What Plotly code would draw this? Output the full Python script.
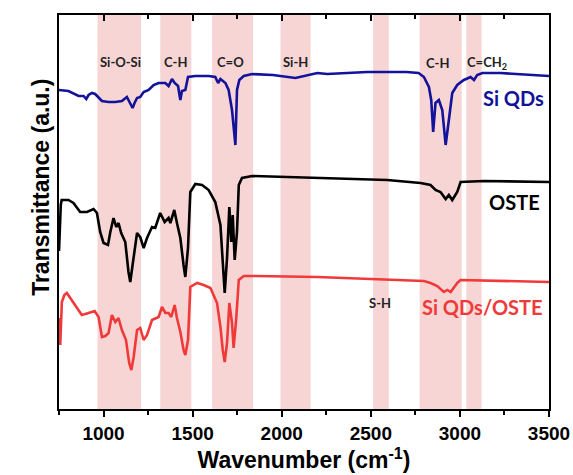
import plotly.graph_objects as go

# FTIR spectra, stacked with vertical offsets (arbitrary transmittance units)
wn_siqd = [750, 803, 860, 888, 903, 916, 935, 953, 991, 1028, 1066, 1103, 1131, 1144, 1163, 1174,
           1188, 1206, 1225, 1253, 1281, 1309, 1347, 1365, 1384, 1399, 1418, 1431, 1440, 1459, 1474,
           1515, 1590, 1627, 1643, 1656, 1684, 1702, 1721, 1740, 1749, 1762, 1787, 1834, 1950, 2077,
           2200, 2255, 2480, 2700, 2768, 2798, 2826, 2839, 2850, 2863, 2882, 2901, 2920, 2938, 2957,
           2985, 3022, 3060, 3079, 3097, 3126, 3228, 3500]
t_siqd = [319, 318, 313, 313, 310, 314, 316, 315, 308, 307, 307, 308, 312, 307, 301, 306,
          311, 312, 317, 319, 324, 326, 326, 323, 330, 326, 323, 309, 318, 319, 332,
          333, 333, 332, 326, 330, 326, 319, 299, 264, 319, 329, 333, 335, 334, 331,
          336, 335, 337, 337, 336, 332, 322, 309, 277, 306, 309, 299, 264, 289, 316,
          324, 329, 332, 329, 334, 336, 336, 333]

wn_oste = [750, 755, 760, 765, 775, 803, 831, 869, 907, 944, 963, 981, 1000, 1025, 1038, 1056,
           1071, 1084, 1099, 1122, 1140, 1150, 1163, 1188, 1206, 1225, 1244, 1272, 1290, 1318,
           1343, 1365, 1375, 1397, 1412, 1431, 1449, 1459, 1474, 1487, 1515, 1553, 1590, 1627,
           1656, 1669, 1680, 1693, 1706, 1717, 1725, 1736, 1749, 1759, 1777, 1834, 2273, 2592,
           2779, 2835, 2863, 2891, 2920, 2938, 2957, 2985, 3004, 3135, 3500]
t_oste = [158, 192, 204, 209, 209, 209, 206, 197, 197, 200, 196, 177, 166, 164, 177, 191,
          182, 186, 176, 167, 137, 127, 144, 176, 172, 161, 171, 182, 181, 196,
          187, 191, 186, 199, 186, 171, 144, 132, 161, 217, 225, 224, 219, 207,
          184, 144, 116, 151, 202, 167, 194, 149, 177, 224, 231, 233, 231, 229,
          226, 224, 219, 217, 210, 214, 209, 217, 227, 228, 227]

wn_comp = [750, 757, 766, 780, 794, 822, 860, 878, 916, 950, 972, 991, 1010, 1028, 1047, 1066,
           1084, 1103, 1126, 1144, 1156, 1169, 1188, 1206, 1225, 1244, 1272, 1309, 1328, 1347,
           1365, 1380, 1399, 1412, 1431, 1449, 1459, 1474, 1487, 1525, 1562, 1600, 1637, 1656,
           1669, 1680, 1693, 1706, 1721, 1730, 1744, 1759, 1787, 1852, 2200, 2500, 2798, 2835,
           2873, 2910, 2929, 2948, 2985, 3004, 3500]
t_comp = [91, 64, 107, 114, 116, 109, 99, 94, 96, 98, 92, 72, 73, 76, 94, 87,
          91, 79, 69, 46, 39, 52, 79, 81, 69, 74, 89, 92, 102, 96,
          96, 92, 104, 91, 77, 59, 54, 69, 122, 126, 124, 121, 106, 82,
          59, 47, 66, 106, 86, 61, 89, 129, 133, 133, 132, 130, 128, 126,
          123, 117, 119, 117, 126, 129, 127]

# Highlighted absorption bands (cm^-1)
band_lo = [966, 1318, 1609, 1993, 2513, 2774, 3036]
band_hi = [1210, 1493, 1839, 2162, 2601, 3010, 3122]

# Band assignments: label, position, height
group_names = ["Si-O-Si", "C-H", "C=O", "Si-H", "C-H", "C=CH<sub>2</sub>", "S-H"]
group_x = [1094, 1403, 1713, 2077, 2873, 3153, 2553]
group_y = [347, 347, 347, 347, 346, 346, 106]

series_names = ["Si QDs", "OSTE", "Si QDs/OSTE"]
series_colors = ["#12129b", "#000000", "#f03a3a"]
label_x = [3481, 3463, 3476]
label_y = [311, 207, 102]

tick_vals = [1000, 1500, 2000, 2500, 3000, 3500]

fig = go.Figure()

for wn, t, name, col in zip([wn_siqd, wn_oste, wn_comp], [t_siqd, t_oste, t_comp],
                            series_names, series_colors):
    fig.add_trace(go.Scatter(x=wn, y=t, mode="lines", name=name,
                             line=dict(color=col, width=2.6), showlegend=False))

# invisible trace that carries the top tick axis
fig.add_trace(go.Scatter(x=[750, 3500], y=[-50, -50], xaxis="x2", mode="lines",
                         line=dict(width=0), showlegend=False, hoverinfo="skip"))

for lo, hi in zip(band_lo, band_hi):
    fig.add_shape(type="rect", xref="x", yref="paper", x0=lo, x1=hi, y0=0, y1=1,
                  fillcolor="#f7d5d5", line=dict(width=0), layer="below")

for name, x, y in zip(group_names, group_x, group_y):
    fig.add_annotation(x=x, y=y, xref="x", yref="y", text=name, showarrow=False,
                       font=dict(family="Lato", size=13, color="#222222", weight="bold"))

for name, col, x, y in zip(series_names, series_colors, label_x, label_y):
    fig.add_annotation(x=x, y=y, xref="x", yref="y", text=name, showarrow=False,
                       xanchor="right",
                       font=dict(family="Lato", size=20, color=col, weight="bold"))

fig.add_annotation(text="Transmittance (a.u.)", xref="paper", yref="paper",
                   x=-0.068, y=0.563, textangle=-90, showarrow=False,
                   font=dict(family="Liberation Sans", size=23, color="black", weight="bold"))

fig.update_layout(
    width=573, height=475,
    margin=dict(l=59, r=24, t=15, b=66, autoexpand=False),
    plot_bgcolor="white", paper_bgcolor="white",
    xaxis=dict(range=[750, 3500], tickvals=tick_vals, automargin=False,
               ticks="outside", ticklen=6, tickwidth=2, tickcolor="black",
               minor=dict(dtick=250, tick0=1000, ticks="outside", ticklen=4, tickwidth=2,
                          tickcolor="black"),
               showline=True, linecolor="black", linewidth=2, mirror=True,
               showgrid=False, zeroline=False,
               tickfont=dict(family="Liberation Sans", size=19, color="black", weight="bold"),
               title=dict(text="Wavenumber (cm<sup>-1</sup>)", standoff=4,
                          font=dict(family="Liberation Sans", size=23, color="black",
                                    weight="bold"))),
    xaxis2=dict(range=[750, 3500], overlaying="x", side="top", automargin=False,
                tickvals=tick_vals, showticklabels=False,
                ticks="inside", ticklen=6, tickwidth=2, tickcolor="black",
                minor=dict(dtick=250, tick0=1000, ticks="inside", ticklen=4, tickwidth=2,
                           tickcolor="black"),
                showgrid=False, zeroline=False, showline=False),
    yaxis=dict(range=[0, 394], showticklabels=False, ticks="", showgrid=False,
               automargin=False, zeroline=False, showline=True, linecolor="black",
               linewidth=2, mirror=True),
)

fig.write_html("out.html")
